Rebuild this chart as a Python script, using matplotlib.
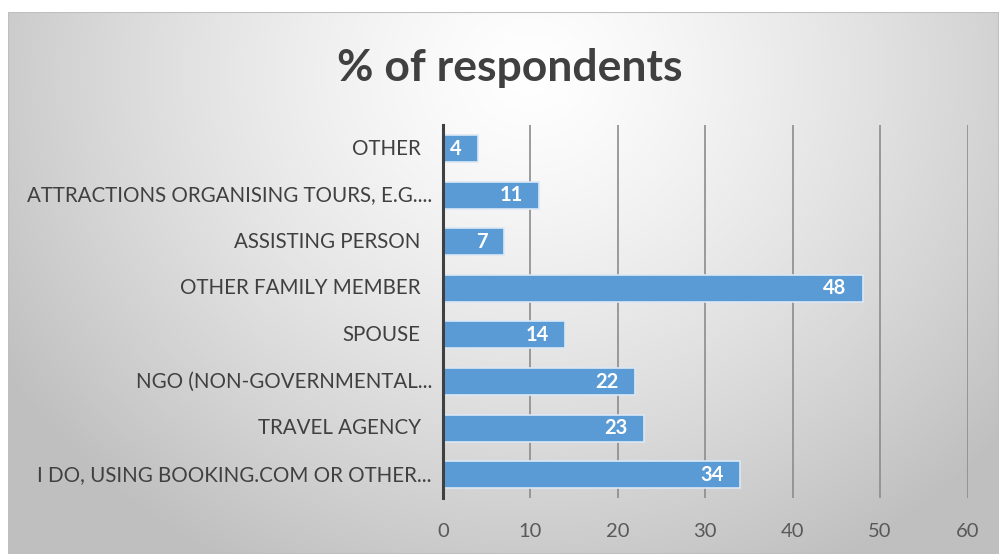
import numpy as np
import matplotlib.pyplot as plt
from matplotlib.patches import Rectangle
from matplotlib.transforms import ScaledTranslation, blended_transform_factory

categories = [
    "I DO, USING BOOKING.COM OR OTHER...",
    "TRAVEL AGENCY ",
    "NGO (NON-GOVERNMENTAL...",
    "SPOUSE",
    "OTHER FAMILY MEMBER ",
    "ASSISTING PERSON",
    "ATTRACTIONS ORGANISING TOURS, E.G....",
    "OTHER",
]
values = [34, 23, 22, 14, 48, 7, 11, 4]
xticks = [0, 10, 20, 30, 40, 50, 60]

FONT = "Lato"
BAR = "#5b9bd5"

fig = plt.figure(figsize=(9.99, 5.54), dpi=100)
fig.patch.set_facecolor("white")

# radial grey backdrop of the chart box
bg = fig.add_axes([0.008, 0, 0.992, 0.978], zorder=0)
h, w = 540, 990
yy, xx = np.mgrid[0:h, 0:w]
d = np.sqrt(((xx - 520) / 620.0) ** 2 + ((yy - 60) / 560.0) ** 2)
d = np.clip(d, 0, 1)
shade = 1.0 - 0.25 * d ** 1.3
img = np.dstack([shade, shade, shade])
bg.imshow(img, aspect="auto", extent=[0, 1, 0, 1], origin="upper")
bg.add_patch(Rectangle((0, 0), 1, 1, transform=bg.transAxes, fill=False,
                       edgecolor="#bfbfbf", linewidth=1.5))
bg.set_axis_off()

ax = fig.add_axes([0.4435, 0.101, 0.525, 0.673], zorder=1)
ax.patch.set_alpha(0)

y = np.arange(len(categories))
ax.barh(y, values, height=0.58, color=BAR, edgecolor="#dbe8f5", linewidth=1.2, zorder=3)

for yi, v in zip(y, values):
    ax.text(v - 1.9, yi, str(v), ha="right", va="center", color="white",
            fontsize=14.5, fontweight="bold", family=FONT, zorder=4)

ax.set_xlim(0, 60)
ax.set_ylim(-0.5, len(categories) - 0.5)
ax.set_xticks(xticks)
ax.set_xticklabels([str(t) for t in xticks], family=FONT, fontsize=14.5, color="#595959")
ax.set_yticks(y)
ax.set_yticklabels([])

# category labels: truncated ones sit closer to the axis
lab_tr = blended_transform_factory(ax.transAxes, ax.transData)
for yi, name in zip(y, categories):
    gap = 8 if name.endswith("...") else 16
    tr = lab_tr + ScaledTranslation(-gap / 72, 0, fig.dpi_scale_trans)
    ax.text(0, yi, name.rstrip(), transform=tr, ha="right", va="center",
            family=FONT, fontsize=14.8, color="#404040")

ax.tick_params(axis="both", length=0)
ax.tick_params(axis="x", pad=18)
ax.xaxis.grid(True, color="#8c8c8c", linewidth=1.2, zorder=0)
for s in ["top", "right", "bottom"]:
    ax.spines[s].set_visible(False)
ax.spines["left"].set_color("#404040")
ax.spines["left"].set_linewidth(2.2)
ax.spines["left"].set_zorder(5)

fig.text(0.510, 0.878, "% of respondents", ha="center", va="center",
         fontsize=32, fontweight="bold", family=FONT, color="#404040")

fig.savefig("out.png", dpi=100)
